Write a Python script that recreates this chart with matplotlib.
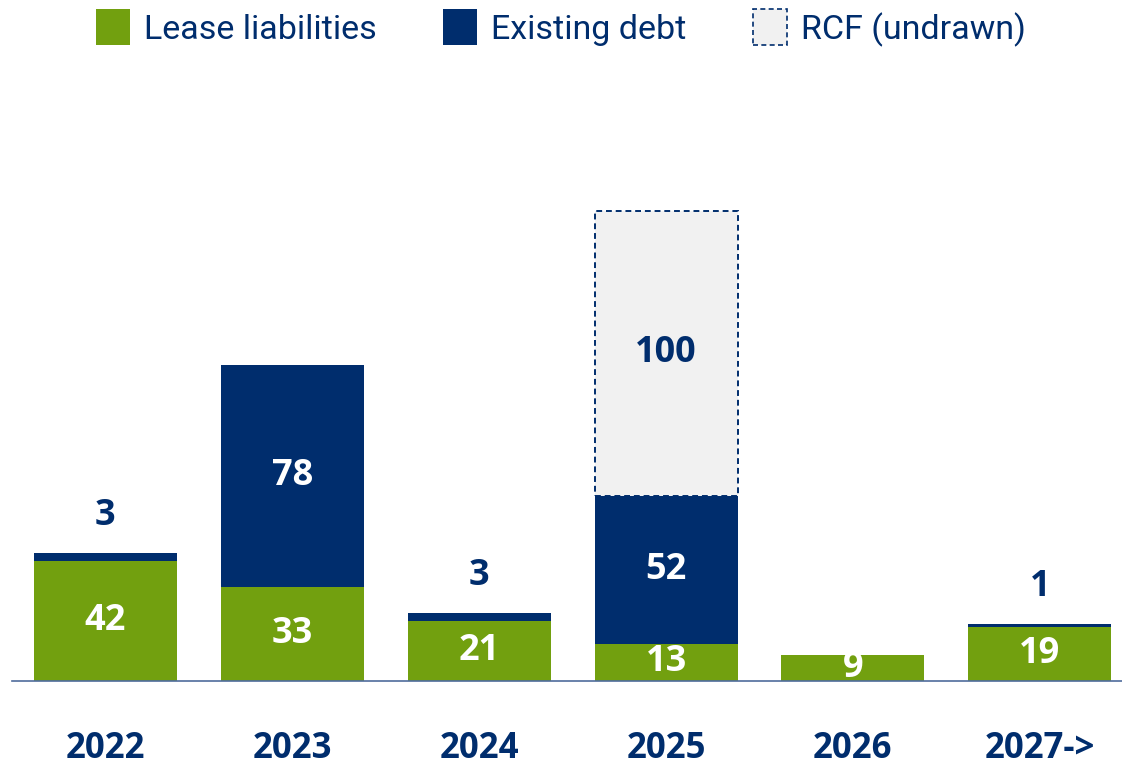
import matplotlib.pyplot as plt
import numpy as np
from matplotlib.patches import Patch

GREEN = "#72A00F"
NAVY = "#002D6D"
LIGHT = "#F1F1F1"
AXIS = "#4F6C9C"

plt.rcParams["font.family"] = ["Open Sans", "DejaVu Sans"]

# data (EUR m maturities)
years = ["2022", "2023", "2024", "2025", "2026", "2027->"]
lease = [42, 33, 21, 13, 9, 19]
debt = [3, 78, 3, 52, 0, 1]
rcf = [0, 0, 0, 100, 0, 0]

x = np.arange(len(years))
lease = np.array(lease)
debt = np.array(debt)
rcf = np.array(rcf)

fig = plt.figure(figsize=(11.22, 7.66), dpi=100)
ax = fig.add_axes([12 / 1122, 1 - 681 / 766, 1 - 12 / 1122, 581 / 766])

w = 0.765
ax.bar(x, lease, w, color=GREEN, zorder=2)
ax.bar(x, debt, w, bottom=lease, color=NAVY, zorder=2)
rcf_bars = ax.bar(x, rcf, w, bottom=lease + debt, color=LIGHT,
                  edgecolor=NAVY, linestyle=(0, (3, 2)), linewidth=1.4, zorder=2)
for b, v in zip(rcf_bars, rcf):
    b.set_visible(v > 0)

lab_kw = dict(ha="center", va="center", fontsize=26, fontweight="bold", zorder=5)
for i in x:
    ax.text(i, lease[i] / 2, str(lease[i]), color="white", **lab_kw)
    if debt[i] >= 10:
        ax.text(i, lease[i] + debt[i] / 2, str(debt[i]), color="white", **lab_kw)
    elif debt[i] > 0:
        ax.text(i, lease[i] + debt[i] + 13, str(debt[i]), color=NAVY, **lab_kw)
    if rcf[i] > 0:
        ax.text(i, lease[i] + debt[i] + rcf[i] / 2, str(rcf[i]), color=NAVY, **lab_kw)

ax.set_xlim(-0.5, 5.44)
ax.set_ylim(0, 203.9)
for s in ("top", "right", "left"):
    ax.spines[s].set_visible(False)
ax.spines["bottom"].set_color(AXIS)
ax.spines["bottom"].set_linewidth(1.2)
ax.spines["bottom"].set_zorder(3)
ax.set_yticks([])
ax.set_xticks(x)
ax.set_xticklabels(years, fontsize=25, fontweight="bold", color=NAVY)
ax.tick_params(axis="x", length=0, pad=36)

handles = [
    Patch(facecolor=GREEN, edgecolor="none", label="Lease liabilities"),
    Patch(facecolor=NAVY, edgecolor="none", label="Existing debt"),
    Patch(facecolor=LIGHT, edgecolor=NAVY, linestyle=(0, (3, 2)),
          linewidth=1.2, label="RCF (undrawn)"),
]
leg = fig.legend(handles=handles, loc="center", bbox_to_anchor=(0.5, 1 - 28 / 766),
                 ncol=3, frameon=False, handlelength=1.0,
                 handleheight=1.25, handletextpad=0.42, columnspacing=1.95,
                 prop={"family": ["Roboto", "DejaVu Sans"], "size": 24.5})
for t in leg.get_texts():
    t.set_color(NAVY)

fig.savefig("out.png", dpi=100)
